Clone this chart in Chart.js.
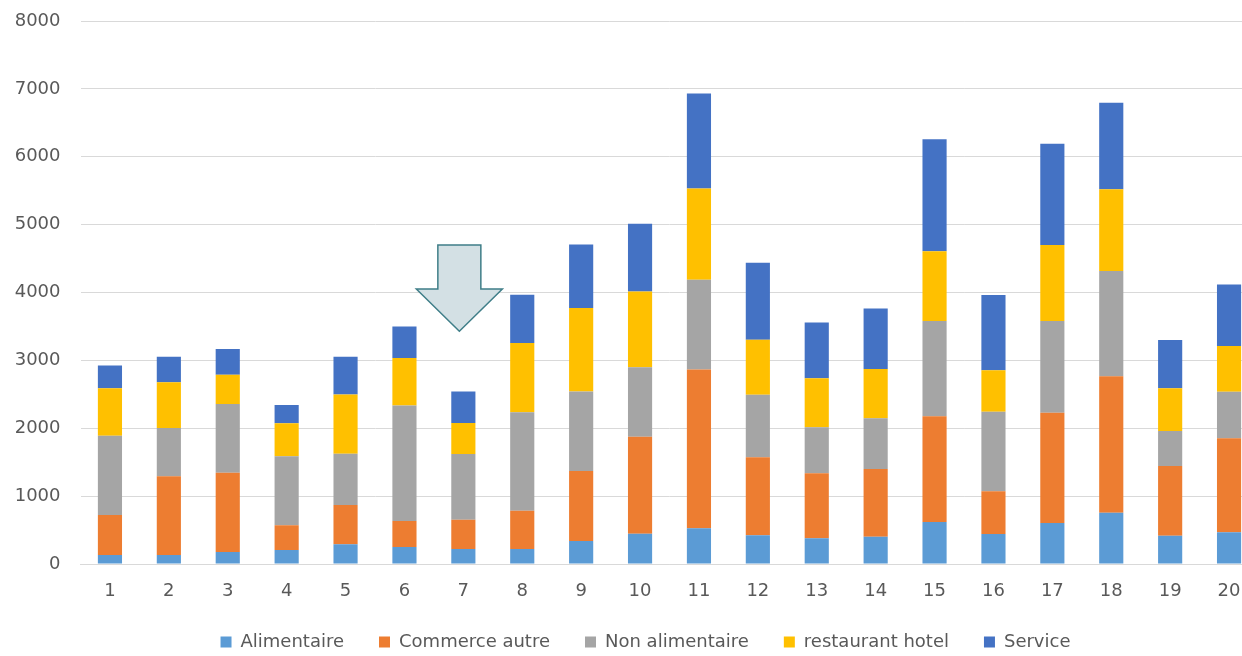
<!DOCTYPE html>
<html>
<head>
<meta charset="utf-8">
<script src="https://cdn.jsdelivr.net/npm/chart.js@4"></script>
<style>
  html, body { margin: 0; padding: 0; background: #ffffff; overflow: hidden; width: 1242px; height: 656px; }
  #wrap { position: absolute; left: 0; top: 0; width: 1291px; height: 661px; }
</style>
</head>
<body>
<div id="wrap"><canvas id="c" width="1291" height="661"></canvas></div>
<script>
const categories = ['1','2','3','4','5','6','7','8','9','10','11','12','13','14','15','16','17','18','19','20'];
const seriesNames = ['Alimentaire', 'Commerce autre', 'Non alimentaire', 'restaurant hotel', 'Service'];
const alimentaire = [133, 133, 177, 206, 290, 250, 221, 221, 339, 447, 525, 422, 378, 401, 619, 442, 604, 756, 416, 467];
const commerceAutre = [589, 1158, 1168, 364, 579, 383, 432, 564, 1031, 1428, 2342, 1149, 960, 1000, 1559, 629, 1624, 2010, 1026, 1386];
const nonAlimentaire = [1168, 712, 1011, 1016, 756, 1704, 967, 1449, 1173, 1022, 1320, 923, 675, 746, 1401, 1173, 1351, 1549, 517, 685];
const restaurantHotel = [698, 673, 432, 486, 874, 697, 457, 1021, 1227, 1119, 1346, 809, 725, 726, 1030, 609, 1122, 1208, 630, 675];
const service = [337, 377, 378, 270, 554, 466, 466, 711, 938, 996, 1399, 1134, 820, 893, 1650, 1111, 1492, 1274, 710, 904];
const yTicks = [0, 1000, 2000, 3000, 4000, 5000, 6000, 7000, 8000];
const colors = ['#5B9BD5', '#ED7D31', '#A5A5A5', '#FFC000', '#4472C4'];
// annotation arrow pointing at category 7
const arrowCategoryIndex = 6;
const arrowValues = { top: 4700, headBase: 4050, tip: 3430 };

const seriesData = [alimentaire, commerceAutre, nonAlimentaire, restaurantHotel, service];

const arrowPlugin = {
  id: 'arrow',
  afterDatasetsDraw(chart) {
    const { ctx, scales } = chart;
    const cx = scales.x.getPixelForValue(arrowCategoryIndex) - 4;
    const yTop = scales.y.getPixelForValue(arrowValues.top);
    const yBase = scales.y.getPixelForValue(arrowValues.headBase);
    const yTip = scales.y.getPixelForValue(arrowValues.tip);
    const shaft = 21.5, head = 43;
    ctx.save();
    ctx.beginPath();
    ctx.moveTo(cx - shaft, yTop);
    ctx.lineTo(cx + shaft, yTop);
    ctx.lineTo(cx + shaft, yBase);
    ctx.lineTo(cx + head, yBase);
    ctx.lineTo(cx, yTip);
    ctx.lineTo(cx - head, yBase);
    ctx.lineTo(cx - shaft, yBase);
    ctx.closePath();
    ctx.fillStyle = '#D3E0E4';
    ctx.fill();
    ctx.lineWidth = 1.5;
    ctx.strokeStyle = '#3F7E88';
    ctx.stroke();
    ctx.restore();
  }
};

Chart.defaults.font.family = "'DejaVu Sans', sans-serif";
Chart.defaults.font.size = 18;
Chart.defaults.color = '#595959';

new Chart(document.getElementById('c'), {
  type: 'bar',
  data: {
    labels: categories,
    datasets: seriesNames.map((name, i) => ({
      label: name,
      data: seriesData[i],
      backgroundColor: colors[i],
      borderWidth: 0,
      categoryPercentage: 1.0,
      barPercentage: 0.41
    }))
  },
  options: {
    responsive: false,
    animation: false,
    devicePixelRatio: 1,
    layout: { padding: { top: 21, right: 0, bottom: 0, left: 0 } },
    plugins: {
      legend: {
        position: 'bottom',
        labels: {
          boxWidth: 11,
          boxHeight: 11,
          padding: 35,
          color: '#595959',
          font: { size: 18 }
        }
      },
      tooltip: { enabled: false }
    },
    scales: {
      x: {
        stacked: true,
        grid: { display: false, drawTicks: false },
        border: { display: true, color: '#D9D9D9' },
        ticks: { padding: 17, color: '#595959', font: { size: 18 } },
        afterFit(scale) { scale.height = 34; scale.paddingRight = 32.5; }
      },
      y: {
        stacked: true,
        min: 0,
        max: 8000,
        afterBuildTicks(scale) { scale.ticks = yTicks.map(v => ({ value: v })); },
        grid: { color: '#D9D9D9', lineWidth: 1, drawTicks: false },
        border: { display: false },
        ticks: { padding: 20, color: '#595959', font: { size: 18 }, callback: (v) => String(v) },
        afterFit(scale) { scale.width = 80.5; scale.paddingTop = 0; scale.paddingBottom = 0; }
      }
    }
  },
  plugins: [arrowPlugin]
});
</script>
</body>
</html>
